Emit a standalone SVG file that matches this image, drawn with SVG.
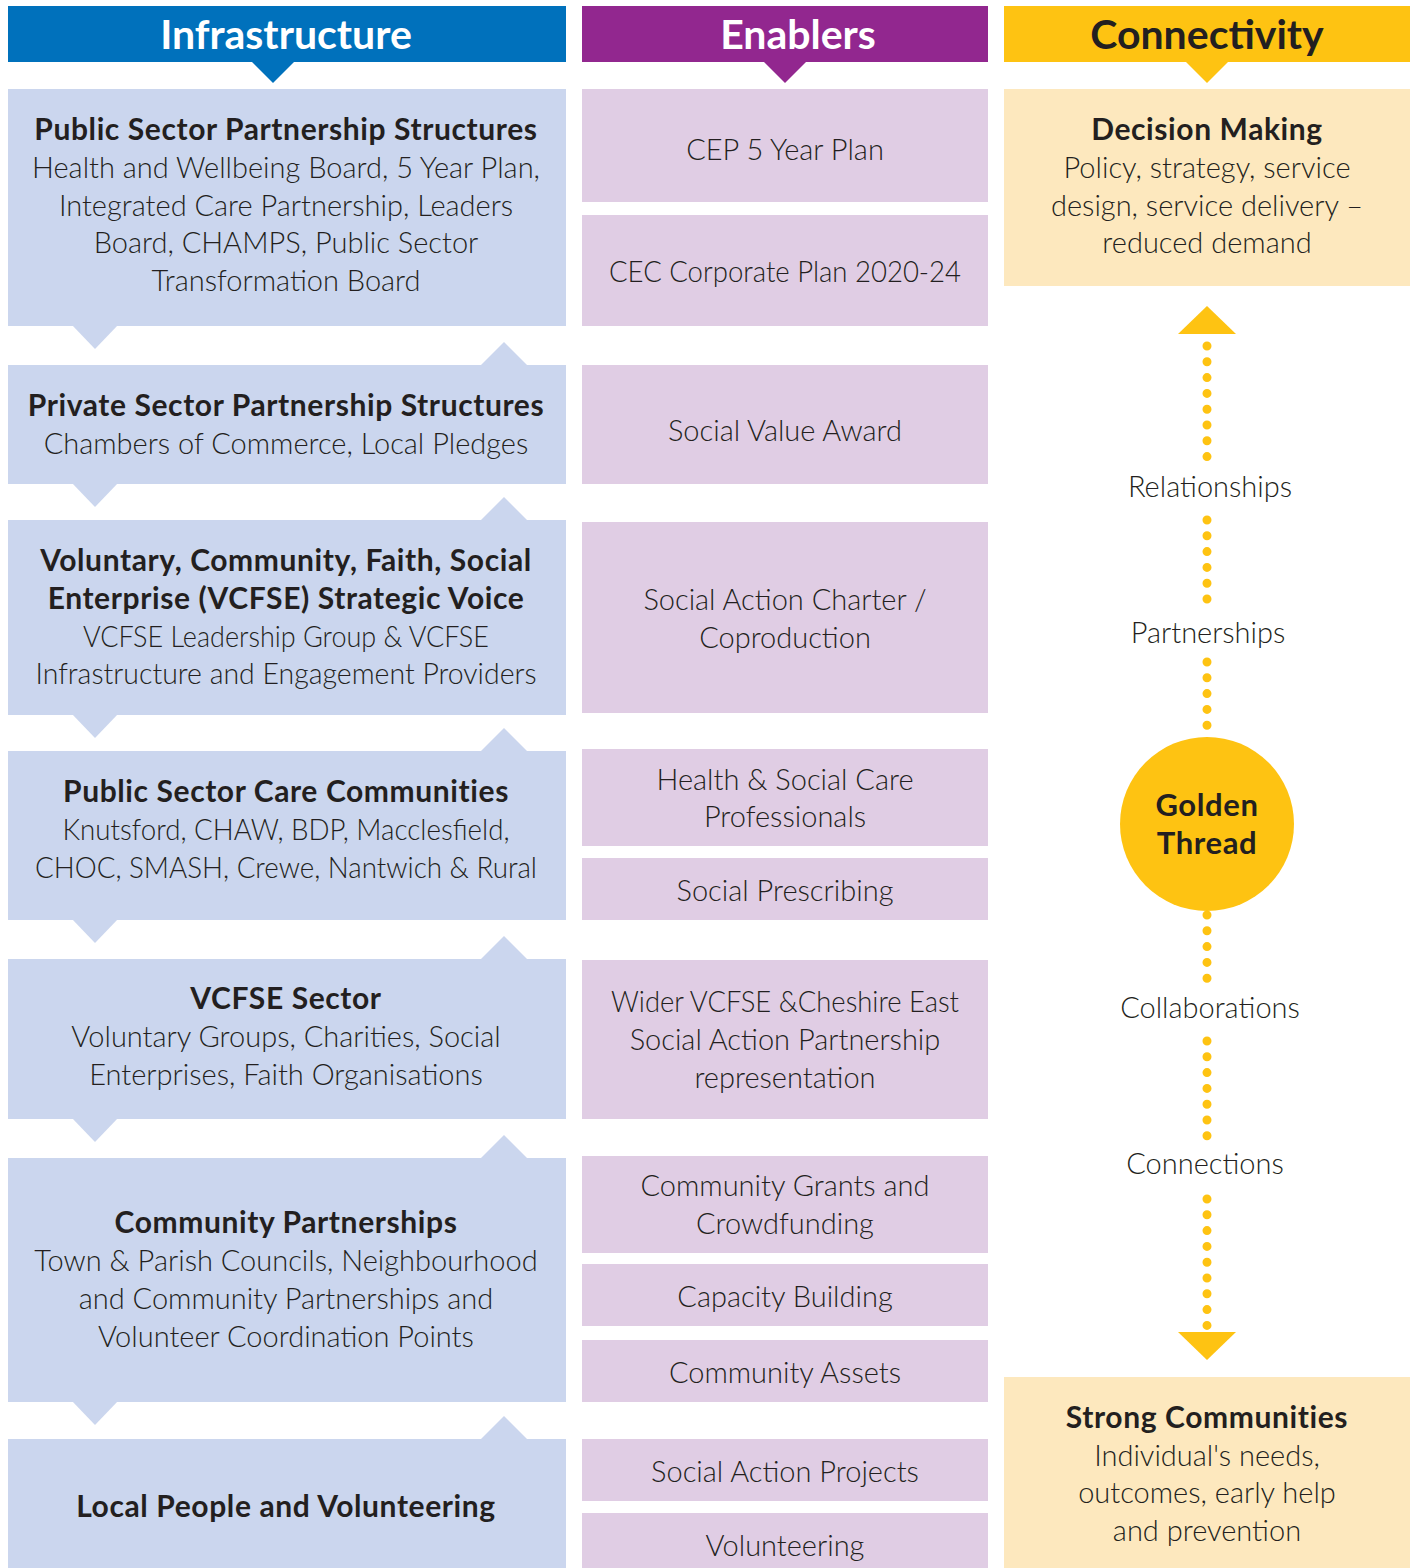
<svg xmlns="http://www.w3.org/2000/svg" width="1414" height="1568" viewBox="0 0 1414 1568">
<style>
  .hdr { font-family: Lato, "Open Sans", "Liberation Sans", sans-serif; font-weight: 700; font-size: 41px; text-anchor: middle; }
  .b { font-family: Lato, "Open Sans", "Liberation Sans", sans-serif; font-weight: 700; font-size: 30px; letter-spacing: 0.6px; fill: #231f20; text-anchor: middle; }
  .t { font-family: Lato, "Open Sans", "Liberation Sans", sans-serif; font-weight: 300; font-size: 29px; fill: #231f20; text-anchor: middle; }
  .infra { fill: #cbd6ee; }
  .enab { fill: #e0cde4; }
  .conn { fill: #fde8be; }
  .gold { fill: #fec312; }
  .dots { stroke: #fec312; stroke-width: 9; stroke-linecap: round; stroke-dasharray: 0 15.8; fill: none; }
</style>

<!-- Headers -->
<g id="header-infrastructure">
  <rect x="8" y="6" width="558" height="56" fill="#0071bc"/>
  <polygon points="252,62 294,62 273,83" fill="#0071bc"/>
  <text class="hdr" x="286" y="49" fill="#ffffff">Infrastructure</text>
</g>
<g id="header-enablers">
  <rect x="582" y="6" width="406" height="56" fill="#92278f"/>
  <polygon points="764,62 806,62 785,83" fill="#92278f"/>
  <text class="hdr" x="798" y="49" fill="#ffffff">Enablers</text>
</g>
<g id="header-connectivity">
  <rect x="1004" y="6" width="406" height="56" fill="#fec312"/>
  <polygon points="1186,62 1228,62 1207,83" fill="#fec312"/>
  <text class="hdr" x="1207" y="49" fill="#231f20">Connectivity</text>
</g>

<!-- Infrastructure column -->
<g id="infra-public-sector-partnership">
  <rect class="infra" x="8" y="89" width="558" height="237"/>
  <polygon class="infra" points="72,325 118,325 95,349"/>
  <text class="b" x="286" y="140">Public Sector Partnership Structures</text>
  <text class="t" x="286" y="178">Health and Wellbeing Board, 5 Year Plan,</text>
  <text class="t" x="286" y="216">Integrated Care Partnership, Leaders</text>
  <text class="t" x="286" y="253">Board, CHAMPS, Public Sector</text>
  <text class="t" x="286" y="291">Transformation Board</text>
</g>
<g id="infra-private-sector-partnership">
  <rect class="infra" x="8" y="365" width="558" height="119"/>
  <polygon class="infra" points="481,365 527,365 504,342"/>
  <polygon class="infra" points="72,483 118,483 95,507"/>
  <text class="b" x="286" y="416">Private Sector Partnership Structures</text>
  <text class="t" x="286" y="454">Chambers of Commerce, Local Pledges</text>
</g>
<g id="infra-vcfse-strategic-voice">
  <rect class="infra" x="8" y="520" width="558" height="195"/>
  <polygon class="infra" points="481,520 527,520 504,497"/>
  <polygon class="infra" points="72,714 118,714 95,738"/>
  <text class="b" x="286" y="571">Voluntary, Community, Faith, Social</text>
  <text class="b" x="286" y="609">Enterprise (VCFSE) Strategic Voice</text>
  <text class="t" x="286" y="647" textLength="406" lengthAdjust="spacingAndGlyphs">VCFSE Leadership Group &amp; VCFSE</text>
  <text class="t" x="286" y="684" textLength="501" lengthAdjust="spacingAndGlyphs">Infrastructure and Engagement Providers</text>
</g>
<g id="infra-public-sector-care-communities">
  <rect class="infra" x="8" y="751" width="558" height="169"/>
  <polygon class="infra" points="481,751 527,751 504,728"/>
  <polygon class="infra" points="72,919 118,919 95,943"/>
  <text class="b" x="286" y="802">Public Sector Care Communities</text>
  <text class="t" x="286" y="840" textLength="447" lengthAdjust="spacingAndGlyphs">Knutsford, CHAW, BDP, Macclesfield,</text>
  <text class="t" x="286" y="878" textLength="502" lengthAdjust="spacingAndGlyphs">CHOC, SMASH, Crewe, Nantwich &amp; Rural</text>
</g>
<g id="infra-vcfse-sector">
  <rect class="infra" x="8" y="959" width="558" height="160"/>
  <polygon class="infra" points="481,959 527,959 504,936"/>
  <polygon class="infra" points="72,1118 118,1118 95,1142"/>
  <text class="b" x="286" y="1009">VCFSE Sector</text>
  <text class="t" x="286" y="1047">Voluntary Groups, Charities, Social</text>
  <text class="t" x="286" y="1085">Enterprises, Faith Organisations</text>
</g>
<g id="infra-community-partnerships">
  <rect class="infra" x="8" y="1158" width="558" height="244"/>
  <polygon class="infra" points="481,1158 527,1158 504,1135"/>
  <polygon class="infra" points="72,1401 118,1401 95,1425"/>
  <text class="b" x="286" y="1233">Community Partnerships</text>
  <text class="t" x="286" y="1271">Town &amp; Parish Councils, Neighbourhood</text>
  <text class="t" x="286" y="1309">and Community Partnerships and</text>
  <text class="t" x="286" y="1347">Volunteer Coordination Points</text>
</g>
<g id="infra-local-people">
  <rect class="infra" x="8" y="1439" width="558" height="129"/>
  <polygon class="infra" points="481,1439 527,1439 504,1416"/>
  <text class="b" x="286" y="1517">Local People and Volunteering</text>
</g>

<!-- Enablers column -->
<g id="enabler-cep-plan">
  <rect class="enab" x="582" y="89" width="406" height="113"/>
  <text class="t" x="785" y="160">CEP 5 Year Plan</text>
</g>
<g id="enabler-cec-corporate-plan">
  <rect class="enab" x="582" y="215" width="406" height="111"/>
  <text class="t" x="785" y="282" textLength="352" lengthAdjust="spacingAndGlyphs">CEC Corporate Plan 2020-24</text>
</g>
<g id="enabler-social-value-award">
  <rect class="enab" x="582" y="365" width="406" height="119"/>
  <text class="t" x="785" y="441">Social Value Award</text>
</g>
<g id="enabler-social-action-charter">
  <rect class="enab" x="582" y="522" width="406" height="191"/>
  <text class="t" x="785" y="610">Social Action Charter /</text>
  <text class="t" x="785" y="648">Coproduction</text>
</g>
<g id="enabler-health-social-care">
  <rect class="enab" x="582" y="749" width="406" height="97"/>
  <text class="t" x="785" y="790">Health &amp; Social Care</text>
  <text class="t" x="785" y="827">Professionals</text>
</g>
<g id="enabler-social-prescribing">
  <rect class="enab" x="582" y="858" width="406" height="62"/>
  <text class="t" x="785" y="901">Social Prescribing</text>
</g>
<g id="enabler-wider-vcfse">
  <rect class="enab" x="582" y="960" width="406" height="159"/>
  <text class="t" x="785" y="1012" textLength="348" lengthAdjust="spacingAndGlyphs">Wider VCFSE &amp;Cheshire East</text>
  <text class="t" x="785" y="1050">Social Action Partnership</text>
  <text class="t" x="785" y="1088">representation</text>
</g>
<g id="enabler-community-grants">
  <rect class="enab" x="582" y="1156" width="406" height="97"/>
  <text class="t" x="785" y="1196">Community Grants and</text>
  <text class="t" x="785" y="1234">Crowdfunding</text>
</g>
<g id="enabler-capacity-building">
  <rect class="enab" x="582" y="1264" width="406" height="62"/>
  <text class="t" x="785" y="1307">Capacity Building</text>
</g>
<g id="enabler-community-assets">
  <rect class="enab" x="582" y="1340" width="406" height="62"/>
  <text class="t" x="785" y="1383">Community Assets</text>
</g>
<g id="enabler-social-action-projects">
  <rect class="enab" x="582" y="1439" width="406" height="62"/>
  <text class="t" x="785" y="1482">Social Action Projects</text>
</g>
<g id="enabler-volunteering">
  <rect class="enab" x="582" y="1513" width="406" height="55"/>
  <text class="t" x="785" y="1556">Volunteering</text>
</g>

<!-- Connectivity column -->
<g id="conn-decision-making">
  <rect class="conn" x="1004" y="89" width="406" height="197"/>
  <text class="b" x="1207" y="140">Decision Making</text>
  <text class="t" x="1207" y="178">Policy, strategy, service</text>
  <text class="t" x="1207" y="216">design, service delivery –</text>
  <text class="t" x="1207" y="253">reduced demand</text>
</g>
<g id="conn-golden-thread">
  <circle class="gold" cx="1207" cy="824" r="87"/>
  <text class="b" x="1207" y="816" style="font-size:31px">Golden</text>
  <text class="b" x="1207" y="854" style="font-size:31px">Thread</text>
</g>
<g id="conn-strong-communities">
  <rect class="conn" x="1004" y="1377" width="406" height="191"/>
  <text class="b" x="1207" y="1428">Strong Communities</text>
  <text class="t" x="1207" y="1466">Individual's needs,</text>
  <text class="t" x="1207" y="1503">outcomes, early help</text>
  <text class="t" x="1207" y="1541">and prevention</text>
</g>

<!-- Connectors -->
<g id="connectors">
  <polygon class="gold" points="1178,334 1236,334 1207,306"/>
  <line class="dots" x1="1207" y1="346" x2="1207" y2="458"/>
  <text class="t" x="1210" y="497">Relationships</text>
  <line class="dots" x1="1207" y1="520" x2="1207" y2="600"/>
  <text class="t" x="1208" y="643">Partnerships</text>
  <line class="dots" x1="1207" y1="662" x2="1207" y2="726"/>
  <line class="dots" x1="1207" y1="915" x2="1207" y2="979"/>
  <text class="t" x="1210" y="1018">Collaborations</text>
  <line class="dots" x1="1207" y1="1041" x2="1207" y2="1137"/>
  <text class="t" x="1205" y="1174">Connections</text>
  <line class="dots" x1="1207" y1="1199" x2="1207" y2="1326"/>
  <polygon class="gold" points="1178,1332 1236,1332 1207,1360"/>
</g>
</svg>
